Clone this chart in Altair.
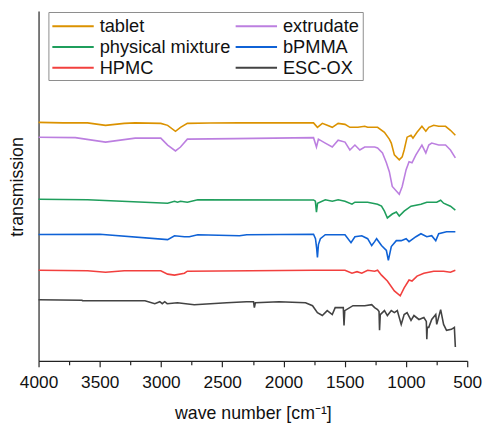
import altair as alt
import pandas as pd

series_names = ["tablet", "extrudate", "physical mixture", "bPMMA", "HPMC", "ESC-OX"]
series_colors = ["#DB9200", "#BC7FE0", "#1F9E5C", "#0F62D6", "#F2403E", "#434343"]

tablet_wn = [4000, 3800, 3600, 3453, 3300, 3211, 3002, 2946, 2882, 2841, 2785, 2600, 2359, 2000, 1755, 1723, 1683,
             1643, 1602, 1554, 1498, 1458, 1393, 1337, 1313, 1256, 1232, 1176, 1136, 1120, 1095, 1055, 1031, 1015,
             991, 959, 943, 910, 870, 838, 814, 774, 733, 677, 637, 597]
tablet_t = [242, 241.5, 241.5, 239, 241, 241.5, 241, 239, 233, 237, 241, 241.3, 241.5, 241.5, 241.5, 237, 241,
            239, 237, 241, 240, 237, 237, 238, 237, 237, 237, 232, 225, 221, 209, 204, 207, 214,
            227, 229, 226, 232, 238, 233, 237, 239, 238, 238, 234, 229]

extrudate_wn = [4000, 3700, 3453, 3211, 3002, 2946, 2882, 2841, 2785, 2400, 1755, 1731, 1715, 1659, 1602, 1554,
                1498, 1458, 1417, 1377, 1337, 1280, 1256, 1232, 1192, 1160, 1136, 1112, 1055, 1031, 999, 975,
                951, 919, 870, 838, 814, 790, 733, 677, 637, 597]
extrudate_t = [227, 226.5, 222, 226, 226, 219, 213, 217, 225, 225.5, 226.5, 217, 225, 221, 217, 224,
               222, 214, 219, 214, 217, 217, 217, 216, 211, 201, 192, 177, 169, 177, 194, 202,
               201, 209, 219, 211, 219, 221, 219, 219, 214, 206]

mixture_wn = [4000, 3600, 2946, 2890, 2866, 2841, 2785, 2700, 1755, 1740, 1731, 1722, 1659, 1602, 1554, 1498,
              1441, 1417, 1377, 1313, 1232, 1200, 1176, 1152, 1112, 1079, 1055, 1015, 959, 878, 830, 749, 717,
              693, 637, 597]
mixture_t = [164, 163.5, 160, 162, 161, 162, 161, 163.5, 163.3, 162, 151, 160, 163.5, 162, 163.5, 162,
             159, 161, 161, 161, 159, 157, 152, 145, 149, 151, 147, 152, 157, 159, 161, 161, 163,
             160, 157, 153]

bpmma_wn = [4000, 3500, 2946, 2890, 2809, 2769, 2700, 2359, 2300, 1755, 1739, 1730, 1723, 1715, 1699, 1659,
            1498, 1449, 1417, 1361, 1313, 1280, 1256, 1240, 1200, 1160, 1144, 1120, 1079, 1039, 999, 975, 919,
            878, 830, 790, 757, 733, 669, 597]
bpmma_t = [128.3, 128.5, 123, 127, 126, 126, 128, 127, 128, 128.5, 124, 115, 105, 118, 124, 128,
           128, 120, 126, 127, 124, 117, 121, 124, 117, 112, 102, 116, 122, 122, 124, 121, 126,
           129, 126, 127, 122, 129, 131, 131]

hpmc_wn = [4000, 3600, 3453, 3300, 3002, 2946, 2890, 2809, 2785, 1755, 1498, 1441, 1400, 1361, 1313, 1256,
           1232, 1200, 1152, 1095, 1047, 1015, 975, 951, 910, 854, 774, 693, 637, 597]
hpmc_t = [92, 91.5, 90, 91.5, 91.5, 88, 87, 89, 91, 92, 92, 89, 90.5, 89, 92, 91,
          92, 87, 81, 71, 66, 74, 82, 81, 86, 89, 91, 91, 90, 92]

escox_wn = [4000, 3646, 3640, 3131, 3051, 3010, 2990, 2970, 2950, 2866, 2729, 2463, 2302, 2245, 2238, 2230,
            2037, 1820, 1763, 1723, 1683, 1643, 1602, 1578, 1538, 1512, 1506, 1500, 1433, 1337, 1280, 1256,
            1232, 1220, 1216, 1210, 1176, 1152, 1120, 1095, 1071, 1039, 1015, 991, 959, 935, 894, 854, 834,
            830, 826, 814, 790, 757, 749, 717, 693, 669, 629, 605, 597]
escox_t = [62, 61.5, 61, 61, 58, 60, 58, 60, 58, 59, 57, 59, 60, 60, 54, 59,
           60, 59, 56, 49, 46, 51, 47, 54, 54, 54, 36, 51, 56, 56, 57, 54,
           52, 50, 31, 47, 51, 46, 51, 49, 51, 37, 47, 49, 41, 46, 42, 44, 40,
           22, 34, 34, 42, 47, 37, 52, 37, 31, 32, 34, 14]

all_wn = [tablet_wn, extrudate_wn, mixture_wn, bpmma_wn, hpmc_wn, escox_wn]
all_t = [tablet_t, extrudate_t, mixture_t, bpmma_t, hpmc_t, escox_t]

rows = []
for name, wns, ts in zip(series_names, all_wn, all_t):
    for w, t in zip(wns, ts):
        rows.append({"series": name, "wn": w, "t": t})
df = pd.DataFrame(rows)

x_values = [4000, 3750, 3500, 3250, 3000, 2750, 2500, 2250, 2000, 1750, 1500, 1250, 1000, 750, 500]

chart = alt.Chart(df).mark_line(strokeWidth=1.6).encode(
    x=alt.X("wn:Q",
            scale=alt.Scale(domain=[4000, 500], nice=False, zero=False),
            axis=alt.Axis(title="wave number [cm⁻¹]", values=x_values, format="d",
                          labelExpr="datum.value % 500 === 0 ? datum.label : ''",
                          tickSize={"condition": {"test": "datum.value % 500 === 0", "value": 6}, "value": 4},
                          labelFlush=False, labelOverlap=False,
                          labelPadding=7, titleY=53, titleBaseline="middle",
                          grid=False)),
    y=alt.Y("t:Q",
            scale=alt.Scale(domain=[0, 355], nice=False, zero=False),
            axis=alt.Axis(title="transmission", labels=False, ticks=False, grid=False,
                          titleX=-21, titleY=178, titleAngle=-90, titleAlign="center",
                          titleBaseline="middle")),
    color=alt.Color("series:N",
                    scale=alt.Scale(domain=series_names, range=series_colors),
                    legend=alt.Legend(orient="none", legendX=10, legendY=1, columns=2, title=None,
                                      direction="horizontal",
                                      symbolType="M-2,0H2", symbolSize=441, symbolStrokeWidth=2,
                                      symbolOffset=10.5,
                                      labelFontSize=18.5, labelOffset=15.5, columnPadding=1, rowPadding=0,
                                      strokeColor="#8c8c8c", fillColor="white", padding=3,
                                      labelLimit=300)),
    detail="series:N",
).properties(
    width=435, height=355,
    autosize=alt.AutoSizeParams(type="none"),
    padding={"left": 31, "top": 0, "right": 16, "bottom": 62},
).configure_view(
    stroke=None
).configure_axis(
    domainColor="#222222", domainWidth=1.2, tickColor="#222222", tickWidth=1.2,
    labelFont="Liberation Sans", titleFont="Liberation Sans", labelFontSize=17.5, titleFontSize=18,
    labelColor="#111111", titleColor="#111111", titleFontWeight="normal"
).configure_legend(
    labelFont="Liberation Sans", labelColor="#111111"
)

chart.save("out.html", embed_options={"renderer": "svg", "actions": False})
